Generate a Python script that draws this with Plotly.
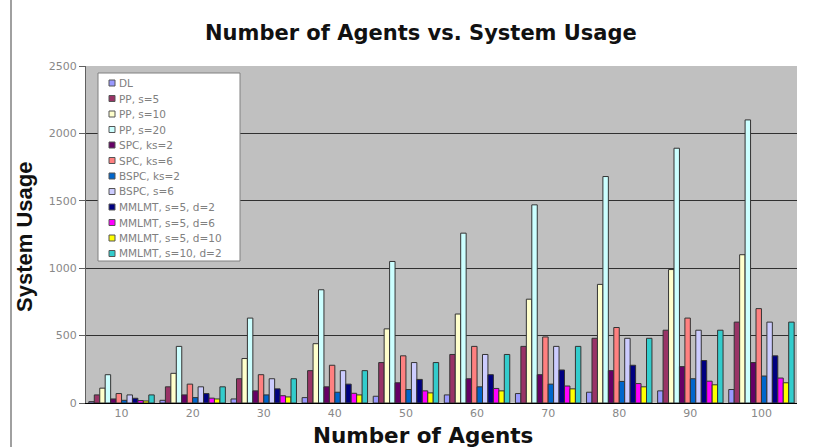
import plotly.graph_objects as go

categories = ["10", "20", "30", "40", "50", "60", "70", "80", "90", "100"]

series_names = [
    "DL", "PP, s=5", "PP, s=10", "PP, s=20", "SPC, ks=2", "SPC, ks=6",
    "BSPC, ks=2", "BSPC, s=6", "MMLMT, s=5, d=2", "MMLMT, s=5, d=6",
    "MMLMT, s=5, d=10", "MMLMT, s=10, d=2",
]

dl = [10, 20, 30, 40, 50, 60, 70, 80, 90, 100]
pp_s5 = [60, 120, 180, 240, 300, 360, 420, 480, 540, 600]
pp_s10 = [110, 220, 330, 440, 550, 660, 770, 880, 990, 1100]
pp_s20 = [210, 420, 630, 840, 1050, 1260, 1470, 1680, 1890, 2100]
spc_ks2 = [30, 60, 90, 120, 150, 180, 210, 240, 270, 300]
spc_ks6 = [70, 140, 210, 280, 350, 420, 490, 560, 630, 700]
bspc_ks2 = [20, 40, 60, 80, 100, 120, 140, 160, 180, 200]
bspc_s6 = [60, 120, 180, 240, 300, 360, 420, 480, 540, 600]
mm_s5_d2 = [35, 70, 105, 140, 175, 210, 245, 280, 315, 350]
mm_s5_d6 = [18, 36, 54, 72, 90, 108, 126, 144, 162, 185]
mm_s5_d10 = [15, 30, 45, 60, 75, 90, 105, 120, 135, 150]
mm_s10_d2 = [60, 120, 180, 240, 300, 360, 420, 480, 540, 600]

series_values = [dl, pp_s5, pp_s10, pp_s20, spc_ks2, spc_ks6, bspc_ks2,
                 bspc_s6, mm_s5_d2, mm_s5_d6, mm_s5_d10, mm_s10_d2]

colors = ["#9999FF", "#993366", "#FFFFCC", "#CCFFFF", "#660066", "#FF8080",
          "#0066CC", "#CCCCFF", "#000080", "#FF00FF", "#FFFF00", "#33CCCC"]

W, H = 820, 447
L, R, T, B = 86, 23, 66, 44
PW, PH = W - L - R, H - T - B


def px(x):
    return (x - L) / PW


def py(y):
    return 1 - (y - T) / PH


fig = go.Figure()
for name, vals, col in zip(series_names, series_values, colors):
    fig.add_trace(go.Bar(
        x=categories, y=vals, name=name, showlegend=False,
        marker=dict(color=col, line=dict(color="#333333", width=1)),
    ))

fig.update_layout(
    width=W, height=H,
    margin=dict(l=L, r=R, t=T, b=B),
    paper_bgcolor="white",
    plot_bgcolor="#C0C0C0",
    barmode="group",
    bargap=0.08,
    bargroupgap=0,
    font=dict(family="DejaVu Sans, sans-serif", color="#888888", size=11),
    xaxis=dict(
        showline=True, linecolor="#000000", linewidth=1,
        ticks="", tickfont=dict(size=11, color="#888888"),
        showgrid=False,
    ),
    yaxis=dict(
        range=[0, 2500], dtick=500,
        showline=True, linecolor="#606060", linewidth=1,
        ticks="outside", ticklen=6, tickcolor="#606060",
        tickfont=dict(size=11, color="#888888"),
        showgrid=True, gridcolor="#303030", gridwidth=1,
        zeroline=False,
    ),
    showlegend=False,
)

# titles
fig.add_annotation(text="<b>Number of Agents vs. System Usage</b>", xref="paper", yref="paper",
                   x=px(421), y=py(33), showarrow=False, xanchor="center", yanchor="middle",
                   font=dict(family="DejaVu Sans, sans-serif", size=21, color="#111111"))
fig.add_annotation(text="<b>Number of Agents</b>", xref="paper", yref="paper",
                   x=px(423), y=py(435), showarrow=False, xanchor="center", yanchor="middle",
                   font=dict(family="DejaVu Sans, sans-serif", size=21.5, color="#111111"))
fig.add_annotation(text="<b>System Usage</b>", xref="paper", yref="paper",
                   x=px(24), y=py(237), showarrow=False, xanchor="center", yanchor="middle",
                   textangle=-90,
                   font=dict(family="Liberation Sans, Arial, sans-serif", size=22, color="#111111"))

# legend box
fig.add_shape(type="rect", xref="paper", yref="paper",
              x0=px(98), x1=px(240), y0=py(73), y1=py(261),
              fillcolor="white", line=dict(color="#808080", width=1), layer="above")
for i, (name, col) in enumerate(zip(series_names, colors)):
    yc = 83 + 15.5 * i
    fig.add_shape(type="rect", xref="paper", yref="paper",
                  x0=px(109), x1=px(115), y0=py(yc - 3), y1=py(yc + 3),
                  fillcolor=col, line=dict(color="#555555", width=1), layer="above")
    fig.add_annotation(text=name, xref="paper", yref="paper",
                       x=px(117), y=py(yc), showarrow=False, xanchor="left", yanchor="middle",
                       font=dict(family="DejaVu Sans, sans-serif", size=10.5, color="#808080"))

# left image border line
fig.add_shape(type="line", xref="paper", yref="paper",
              x0=px(11), x1=px(11), y0=py(H), y1=py(0),
              line=dict(color="#A0A0A0", width=2))

fig.write_html("out.html")
